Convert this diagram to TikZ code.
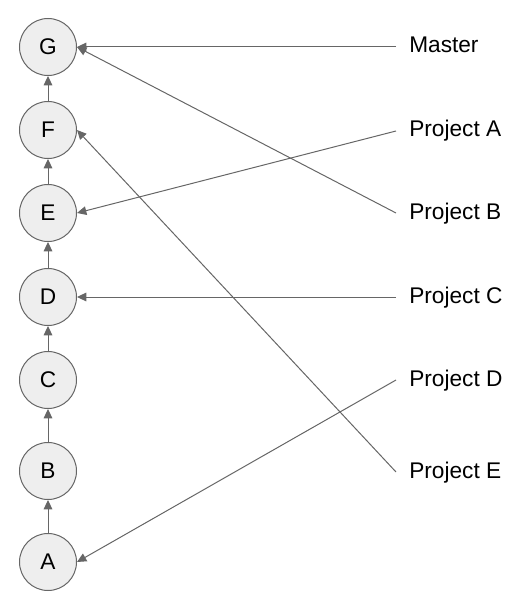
\documentclass[tikz,border=0pt]{standalone}
\usepackage{fontspec}
\setmainfont{Liberation Sans}
\usetikzlibrary{arrows.meta, positioning}
\definecolor{garis}{HTML}{666666}
\definecolor{isi}{HTML}{EEEEEE}
\tikzset{
  komit/.style={circle, draw=garis, fill=isi, line width=0.75pt,
    minimum size=42.75pt, inner sep=0pt, font=\fontsize{17}{20}\selectfont},
  cabang/.style={anchor=west, inner xsep=9.75pt, inner ysep=0pt,
    text height=12pt, text depth=3pt, font=\fontsize{17}{20}\selectfont},
  panah/.style={-{Triangle[length=7pt,width=6.5pt]}, garis, line width=0.75pt}
}

\begin{document}
\begin{tikzpicture}[x=0.75pt, y=-0.75pt]
  \useasboundingbox (0,0) rectangle (526,606);
  % commits
  \node[komit] (A) at (48,562) {A};
  \node[komit] (B) at (48,471) {B};
  \node[komit] (C) at (48,380) {C};
  \node[komit] (D) at (48,297) {D};
  \node[komit] (E) at (48,213) {E};
  \node[komit] (F) at (48,130) {F};
  \node[komit] (G) at (48,47) {G};
  \draw[panah] (A) -- (B);
  \draw[panah] (B) -- (C);
  \draw[panah] (C) -- (D);
  \draw[panah] (D) -- (E);
  \draw[panah] (E) -- (F);
  \draw[panah] (F) -- (G);
  % branches
  \node[cabang] (master) at (396,47) {Master};
  \node[cabang] (pa) at (396,131) {Project A};
  \node[cabang] (pb) at (396,213) {Project B};
  \node[cabang] (pc) at (396,297) {Project C};
  \node[cabang] (pd) at (396,380) {Project D};
  \node[cabang] (pe) at (396,472) {Project E};
  \draw[panah] (master.west) -- (G.east);
  \draw[panah] (pa.west) -- (E.east);
  \draw[panah] (pb.west) -- (G.east);
  \draw[panah] (pc.west) -- (D.east);
  \draw[panah] (pd.west) -- (A.east);
  \draw[panah] (pe.west) -- (F.east);
\end{tikzpicture}
\end{document}
